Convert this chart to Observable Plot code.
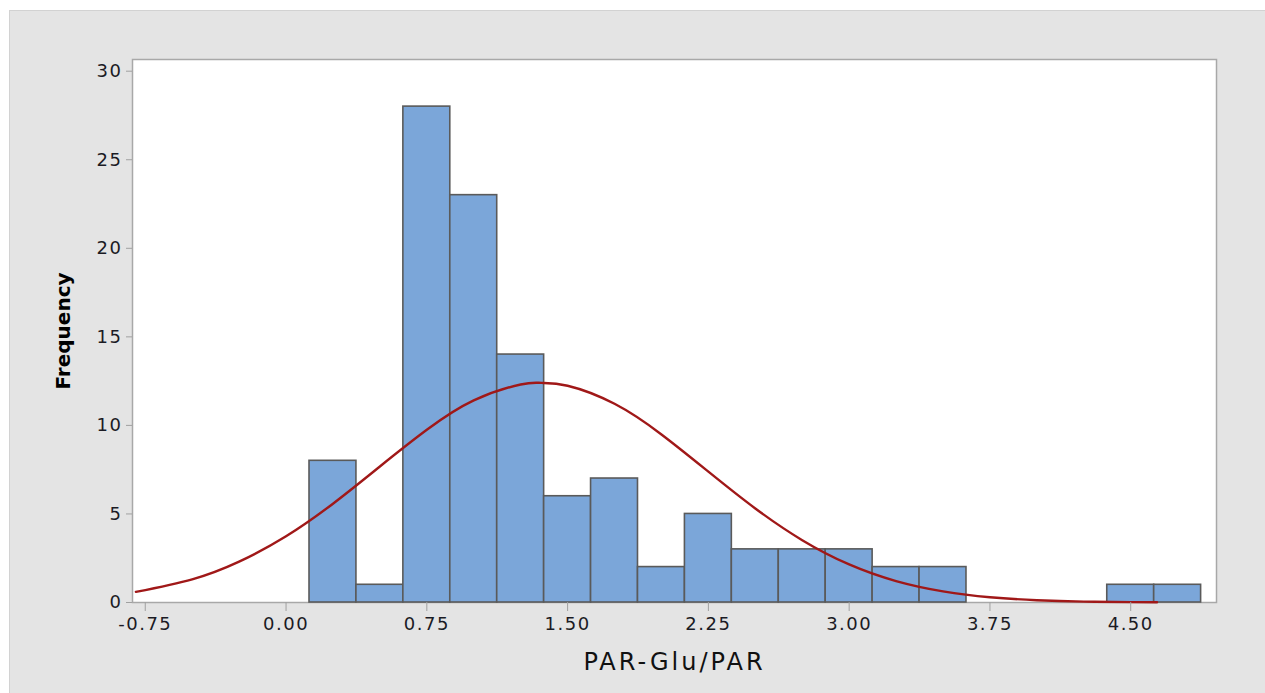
<!DOCTYPE html>
<html>
<head>
<meta charset="utf-8">
<script src="https://cdn.jsdelivr.net/npm/d3@7"></script>
<script src="https://cdn.jsdelivr.net/npm/@observablehq/plot@0.6"></script>
<style>
  html, body { margin: 0; padding: 0; background: #ffffff; overflow: hidden; width: 1265px; height: 693px; }
  #panel { position: absolute; left: 9px; top: 10px; width: 1270px; height: 700px; background: #e4e4e4; border: 1px solid #d2d2d2; box-sizing: border-box; }
  #chart { position: absolute; left: 0; top: 0; }
</style>
</head>
<body>
<div id="panel"></div>
<div id="chart"></div>
<script>
// Histogram bins (lower / upper edges) and frequencies
const binLo  = [0.125, 0.375, 0.625, 0.875, 1.125, 1.375, 1.625, 1.875, 2.125, 2.375, 2.625, 2.875, 3.125, 3.375, 4.375, 4.625];
const binHi  = [0.375, 0.625, 0.875, 1.125, 1.375, 1.625, 1.875, 2.125, 2.375, 2.625, 2.875, 3.125, 3.375, 3.625, 4.625, 4.875];
const counts = [8, 1, 28, 23, 14, 6, 7, 2, 5, 3, 3, 3, 2, 2, 1, 1];

// Fitted normal curve
const fitX = [-0.8, -0.5, -0.25, 0, 0.25, 0.5, 0.75, 1.0, 1.25, 1.36, 1.5, 1.75, 2.0, 2.25, 2.5, 2.75, 3.0, 3.25, 3.5, 3.75, 4.0, 4.25, 4.5, 4.64];
const fitY = [0.60, 1.31, 2.31, 3.74, 5.58, 7.68, 9.75, 11.41, 12.31, 12.40, 12.24, 11.22, 9.49, 7.39, 5.31, 3.52, 2.15, 1.21, 0.63, 0.30, 0.13, 0.05, 0.02, 0.01];

const xTicks = [-0.75, 0.00, 0.75, 1.50, 2.25, 3.00, 3.75, 4.50];
const yTicks = [0, 5, 10, 15, 20, 25, 30];
const xLabel = "PAR-Glu/PAR";
const yLabel = "Frequency";

const bins = binLo.map((lo, i) => ({lo, hi: binHi[i], n: counts[i]}));
const fit = fitX.map((x, i) => ({x, y: fitY[i]}));

const plot = Plot.plot({
  width: 1265,
  height: 693,
  marginLeft: 132,
  marginRight: 49,
  marginTop: 59,
  marginBottom: 91,
  style: {background: "transparent", fontFamily: "'DejaVu Sans', sans-serif", fontSize: "18px", color: "#1b1b24", letterSpacing: "1.5px"},
  x: {domain: [-0.818, 4.957]},
  y: {domain: [0, 30.66]},
  marks: [
    Plot.frame({fill: "white", stroke: "#a8a8a8", strokeWidth: 1.5}),
    Plot.rectY(bins, {x1: "lo", x2: "hi", y: "n", fill: "#7ba6d9", stroke: "#5a5a5a", strokeWidth: 1.6}),
    Plot.line(fit, {x: "x", y: "y", stroke: "#a01818", strokeWidth: 2.4, curve: "natural"}),
    Plot.axisX({ticks: xTicks, tickFormat: d => d.toFixed(2), tickSize: 9, tickPadding: 6, stroke: "#a0a0a0",
      label: xLabel, labelAnchor: "center", labelOffset: 67, labelArrow: "none"}),
    Plot.axisY({ticks: yTicks, tickFormat: d => String(d), tickSize: 6, tickPadding: 4, stroke: "#a0a0a0",
      label: yLabel, labelAnchor: "center", labelOffset: 77, labelArrow: "none"})
  ]
});
document.getElementById("chart").appendChild(plot);

// label styling
const svg = d3.select(plot);
svg.selectAll('[aria-label="x-axis label"] text').style("font-size", "24px").style("letter-spacing", "3px").style("fill", "#111");
svg.selectAll('[aria-label="y-axis label"] text').style("font-size", "20px").style("font-weight", "bold").style("letter-spacing", "0px").style("fill", "#000");
</script>
</body>
</html>
